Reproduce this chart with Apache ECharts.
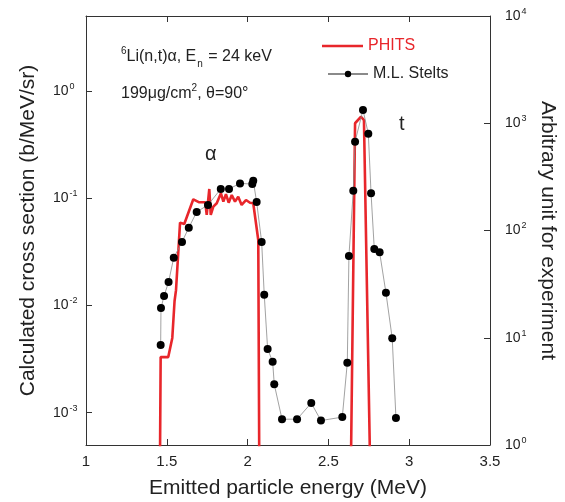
<!DOCTYPE html>
<html><head><meta charset="utf-8">
<script src="https://cdn.jsdelivr.net/npm/echarts@6/dist/echarts.min.js"></script>
<style>html,body{margin:0;padding:0;background:#fff}#c{width:565px;height:502px}</style>
</head><body><div id="c"></div>
<script>
// PHITS calculation (left axis, b/MeV/sr); values below the axis minimum draw the vertical edges
const phitsE = [1.458,1.462,1.509,1.534,1.548,1.557,1.582,1.608,1.664,1.701,1.738,1.747,1.763,1.772,1.788,1.809,1.835,1.850,1.866,1.883,1.902,1.922,1.942,1.963,1.990,2.015,2.035,2.066,2.072,2.640,2.665,2.702,2.710,2.720,2.757];
const phitsY = [4e-4,3.30e-3,3.30e-3,4.98e-3,1.1e-2,1.39e-2,0.0592,0.0575,0.0977,0.0916,0.0916,0.0698,0.122,0.0698,0.0834,0.0897,0.111,0.0929,0.109,0.0908,0.107,0.0929,0.103,0.0865,0.0962,0.0908,0.0897,0.0408,4e-4,4e-4,0.500,0.575,0.585,0.536,4e-4];
// M.L. Stelts experiment (right axis, arbitrary unit)
const expE = [1.462,1.464,1.483,1.511,1.543,1.594,1.636,1.685,1.755,1.834,1.885,1.953,2.029,2.035,2.056,2.087,2.103,2.124,2.155,2.165,2.213,2.306,2.394,2.454,2.586,2.617,2.627,2.654,2.665,2.714,2.747,2.764,2.784,2.817,2.856,2.895,2.918];
const expY = [8.56,18.9,24.5,33.1,55.8,78.1,106,149,173,244,244,275,271,291,184,78.1,25.2,7.85,5.98,3.68,1.74,1.74,2.46,1.69,1.82,5.85,57.8,235,673,1330,800,222,67.2,62.6,26.3,9.88,1.79];
const xTicks = [1,1.5,2,2.5,3,3.5];
const leftTicks = [1e-3,1e-2,1e-1,1];
const rightTicks = [1,10,100,1000,10000];

const FONT = 'Liberation Sans';
const RED = '#e8262b';
const AX = '#333';
const supFmt = v => '{b|10}{s|' + Math.round(Math.log10(v)) + '}';
const supRich = {
  b: {fontSize: 14, fontFamily: FONT, color: '#222', lineHeight: 20},
  s: {fontSize: 9, fontFamily: FONT, color: '#222', verticalAlign: 'top', lineHeight: 20, padding: [1,0,0,1]}
};

const chart = echarts.init(document.getElementById('c'), null, {renderer: 'canvas'});
chart.setOption({
  backgroundColor: '#fff',
  animation: false,
  textStyle: {fontFamily: FONT},
  grid: {left: 86, right: 75, top: 16, bottom: 57, containLabel: false, outerBoundsMode: 'none'},
  legend: [
    {data: [{name: 'PHITS', icon: 'rect', textStyle: {color: RED}}], left: 322, top: 38, padding: 0,
     itemWidth: 41, itemHeight: 2.6, itemGap: 5,
     textStyle: {fontSize: 16, fontFamily: FONT}},
    {data: ['M.L. Stelts'], left: 327, top: 66, padding: 0, itemWidth: 40, itemHeight: 8, itemGap: 5,
     textStyle: {fontSize: 16, fontFamily: FONT, color: '#222'}}
  ],
  xAxis: [
    {type: 'value', min: 1, max: 3.5, interval: 0.5, position: 'bottom',
     name: 'Emitted particle energy (MeV)', nameLocation: 'middle', nameGap: 33,
     nameTextStyle: {fontSize: 21, color: '#222', fontFamily: FONT},
     axisLine: {show: true, lineStyle: {color: AX, width: 1}},
     axisTick: {show: true, inside: true, length: 6, lineStyle: {color: AX}},
     axisLabel: {fontSize: 15, color: '#222', margin: 9, fontFamily: FONT, formatter: v => String(v)},
     splitLine: {show: false}},
    {type: 'value', min: 1, max: 3.5, interval: 0.5, position: 'top',
     axisLine: {show: true, lineStyle: {color: AX, width: 1}},
     axisTick: {show: true, inside: true, length: 6, lineStyle: {color: AX}},
     axisLabel: {show: false}, splitLine: {show: false}}
  ],
  yAxis: [
    {type: 'log', logBase: 10, min: 5e-4, max: 5, position: 'left',
     name: 'Calculated cross section (b/MeV/sr)', nameLocation: 'middle', nameGap: 47, nameRotate: 90,
     nameTextStyle: {fontSize: 21, color: '#222', fontFamily: FONT},
     axisLine: {show: true, lineStyle: {color: AX, width: 1}},
     axisTick: {show: true, inside: true, length: 6, lineStyle: {color: AX}, customValues: leftTicks},
     axisLabel: {customValues: leftTicks, formatter: supFmt, rich: supRich, margin: 33, align: 'left'},
     minorTick: {show: false}, splitLine: {show: false}},
    {type: 'log', logBase: 10, min: 1, max: 10000, position: 'right',
     name: 'Arbitrary unit for experiment', nameLocation: 'middle', nameGap: 42, nameRotate: -90,
     nameTextStyle: {fontSize: 21, color: '#222', fontFamily: FONT},
     axisLine: {show: true, lineStyle: {color: AX, width: 1}},
     axisTick: {show: true, inside: true, length: 6, lineStyle: {color: AX}, customValues: rightTicks},
     axisLabel: {customValues: rightTicks, formatter: supFmt, rich: supRich, margin: 15, align: 'left'},
     splitLine: {show: false}}
  ],
  series: [
    {name: 'PHITS', type: 'line', xAxisIndex: 0, yAxisIndex: 0, symbol: 'none', clip: true, z: 2,
     lineStyle: {color: RED, width: 2.6}, itemStyle: {color: RED},
     data: phitsE.map((e, i) => [e, phitsY[i]])},
    {name: 'M.L. Stelts', type: 'line', xAxisIndex: 0, yAxisIndex: 1, symbol: 'circle', symbolSize: 8, clip: true, z: 3,
     lineStyle: {color: '#8a8a8a', width: 0.8}, itemStyle: {color: '#000'},
     data: expE.map((e, i) => [e, expY[i]])}
  ],
  graphic: [
    {type: 'text', left: 121, top: 45, style: {
      text: '{sp|6}{n|Li(n,t)α, E}{sb|n}{n| = 24 keV}',
      rich: {
        n: {fontSize: 16, fontFamily: FONT, fill: '#222', lineHeight: 24},
        sp: {fontSize: 10, fontFamily: FONT, fill: '#222', verticalAlign: 'top', lineHeight: 24, padding: [1,0,0,0]},
        sb: {fontSize: 10, fontFamily: FONT, fill: '#222', verticalAlign: 'bottom', lineHeight: 24, padding: [0,1,0,1]}
      }}},
    {type: 'text', left: 121, top: 82, style: {
      text: '{n|199μg/cm}{sp|2}{n|, θ=90°}',
      rich: {
        n: {fontSize: 16, fontFamily: FONT, fill: '#222', lineHeight: 24},
        sp: {fontSize: 10, fontFamily: FONT, fill: '#222', verticalAlign: 'top', lineHeight: 24, padding: [1,0,0,0]}
      }}},
    {type: 'text', left: 205, top: 144, style: {text: 'α', fontSize: 20, fontFamily: FONT, fill: '#222'}},
    {type: 'text', left: 399, top: 114, style: {text: 't', fontSize: 20, fontFamily: FONT, fill: '#222'}}
  ]
});
</script>
</body></html>
